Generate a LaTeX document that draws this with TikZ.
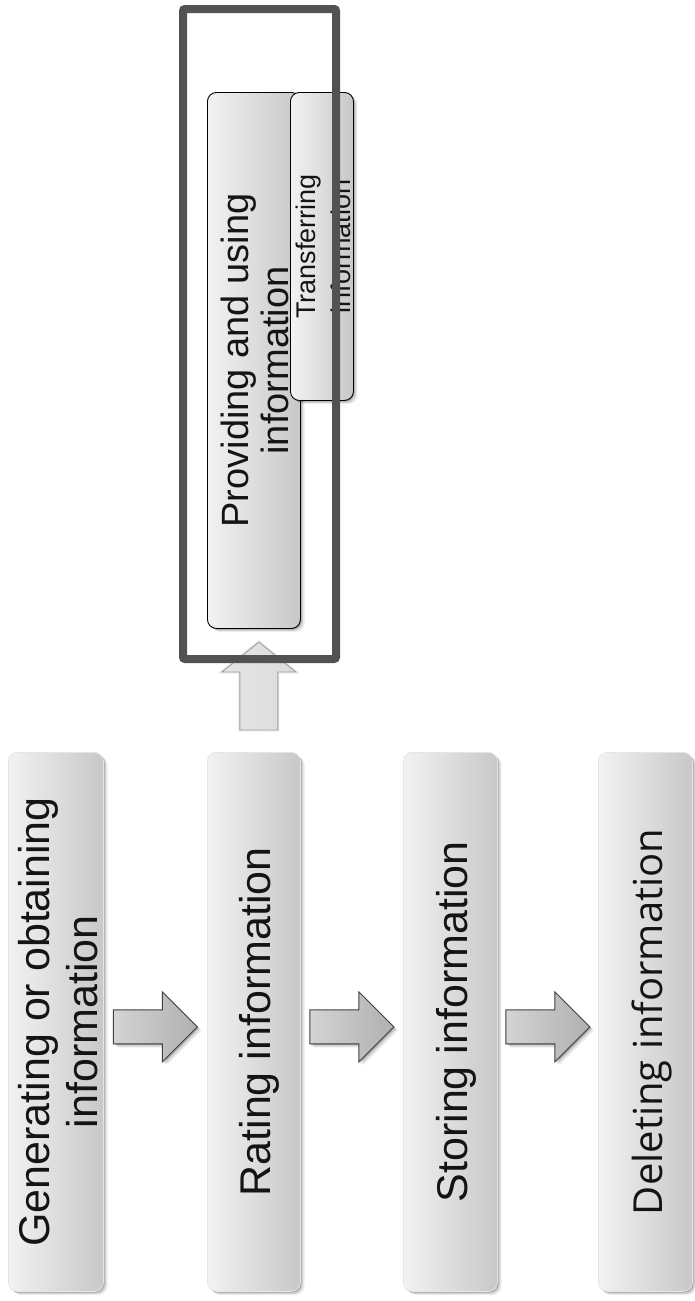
\documentclass[tikz,border=0pt]{standalone}
\usepackage{fontspec}
\setmainfont{Liberation Sans}
\newfontfamily\delfont{Open Sans}
\usetikzlibrary{shadows,calc}

% light-to-dark fill of the stage boxes (left to right)
\pgfdeclarehorizontalshading{boxshade}{100bp}{color(0bp)=(black!13); color(22bp)=(black!4); color(100bp)=(black!30)}
% fill of the block arrows
\pgfdeclarehorizontalshading{arrowshade}{100bp}{color(0bp)=(black!10); color(100bp)=(black!38)}
\pgfdeclarehorizontalshading{fadedshade}{100bp}{color(0bp)=(black!8); color(100bp)=(black!16)}

% vertical label, read bottom to top; the optional length is extra room
% above the lines (before rotating), which moves the label to the right;
% the label takes no width, so the box keeps its own size
\newcommand{\vlabel}[2][0pt]{\makebox[0pt]{\rotatebox{90}{\raisebox{0pt}[\dimexpr\height+#1\relax]{\begin{tabular}{@{}c@{}}#2\end{tabular}}}}}

\tikzset{
  softshadow/.style={
    drop shadow={shadow xshift=1.2pt,shadow yshift=-1.2pt,opacity=.20,fill=black},
    drop shadow={shadow xshift=2.6pt,shadow yshift=-2.4pt,opacity=.12,fill=black},
    drop shadow={shadow xshift=4.2pt,shadow yshift=-3.6pt,opacity=.07,fill=black}},
  stage/.style={softshadow, shade, shading=boxshade, draw=black!10, line width=.8pt,
    rounded corners=9pt, inner sep=0pt, anchor=north west,
    minimum height=539pt, text=black!92},
  substage/.style={stage, draw=black, line width=.9pt},
  bigtext/.style={font=\fontsize{43}{45}\selectfont},
  flowarrow/.style={softshadow, shade, shading=arrowshade, draw=black!75, line width=.9pt},
  fadedarrow/.style={shade, shading=fadedshade, draw=black!38, line width=.9pt,
    preaction={draw=black!12, line width=3pt, opacity=.6}},
  groupframe/.style={draw=black!68, line width=8pt, rounded corners=2pt,
    anchor=north west, inner sep=0pt},
  rarrow/.pic={\path[flowarrow] (-42,17) -- (7,17) -- (7,35) -- (42,0) -- (7,-35)
      -- (7,-17) -- (-42,-17) -- cycle;},
  uarrow/.pic={\path[fadedarrow] (-19,-44) -- (-19,14) -- (-37,14) -- (0,44) -- (37,14)
      -- (19,14) -- (19,-44) -- cycle;}
}

\begin{document}
\begin{tikzpicture}[x=1pt,y=1pt]
\useasboundingbox (0,0) rectangle (694,-1301);

% main sequence of stages
\node[stage, font=\fontsize{43}{48}\selectfont, minimum width=95pt] (gen) at (8,-752)
  {\vlabel[16pt]{Generating or obtaining\\information}};
\node[stage, bigtext, minimum width=93pt] (rate) at (207,-752)
  {\vlabel[16pt]{Rating information}};
\node[stage, bigtext, minimum width=94pt] (store) at (403,-752)
  {\vlabel[16pt]{Storing information}};
\node[stage, font=\delfont\fontsize{40}{45}\selectfont, minimum width=94pt] (del) at (598,-752)
  {\vlabel[16pt]{Deleting information}};

% arrows between the stages
\pic at ($(gen.east)!.5!(rate.west)+(0,-5)$) {rarrow};
\pic at ($(rate.east)!.5!(store.west)+(0,-5)$) {rarrow};
\pic at ($(store.east)!.5!(del.west)+(0,-5)$) {rarrow};

% providing / transferring
\node[substage, font=\fontsize{38}{40}\selectfont, minimum width=93pt, minimum height=536pt] (prov) at (207,-92)
  {\vlabel[13pt]{Providing and using\\information}};
\node[substage, font=\fontsize{27}{35}\selectfont, minimum width=63pt, minimum height=308pt] (trans) at (290,-92)
  {\vlabel[9pt]{Transferring\\information}};

% faded arrow up from rating
\pic at ($(rate.north)+(5,66)$) {uarrow};

% frame around the providing group
\node[groupframe, minimum width=153pt, minimum height=650pt] (group) at (179,-5) {};
\end{tikzpicture}
\end{document}
